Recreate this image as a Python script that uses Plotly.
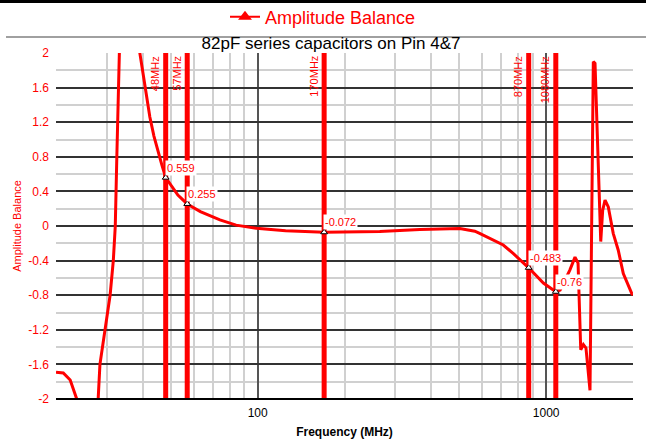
import math
import plotly.graph_objects as go

# ---- data ----
freq_mhz = [20, 21.2, 22.4, 23.6, 26.0, 28.0, 28.4, 29.6, 30.8, 31.6, 32.1, 32.5, 33.1, 33.5,
            37.4, 39.1, 40.06, 41.0, 42.3, 43.7, 45.1, 46.6, 48, 52.9, 57, 63.3, 74, 84.2, 99, 125,
            170, 220, 265, 365, 502, 566, 588, 710, 770, 870, 978, 1080, 1118, 1208, 1259,
            1290, 1310, 1318, 1346, 1374, 1419, 1457, 1477, 1504, 1546, 1570, 1600, 1642,
            1708, 1778, 1851, 1980, 2000]
amp_balance = [-1.69, -1.70, -1.78, -2.0, -2.5, -2.0, -1.6, -1.2, -0.8, -0.4, 0.0, 0.8, 2.0, 2.6,
               2.4, 2.0, 1.75, 1.52, 1.26, 1.04, 0.86, 0.70, 0.559, 0.358, 0.255, 0.166, 0.07, 0.01,
               -0.027, -0.054, -0.072, -0.068, -0.065, -0.04, -0.03, -0.06, -0.085, -0.22, -0.32,
               -0.483, -0.66, -0.76, -0.74, -0.51, -0.36, -0.43, -1.32, -1.43, -1.37, -1.41, -1.9,
               1.90, 1.88, 0.99, -0.18, 0.18, 0.30, 0.22, -0.085, -0.28, -0.55, -0.78, -0.80]

marker_freqs = [48, 57, 170, 870, 1080]
marker_labels = ["48MHz", "57MHz", "170MHz", "870MHz", "1080MHz"]
marker_values = [0.559, 0.255, -0.072, -0.483, -0.76]
marker_value_text = ["0.559", "0.255", "-0.072", "-0.483", "-0.76"]

y_ticks = [2, 1.6, 1.2, 0.8, 0.4, 0, -0.4, -0.8, -1.2, -1.6, -2]
y_ticktext = ["2", "1.6", "1.2", "0.8", "0.4", "0", "-0.4", "-0.8", "-1.2", "-1.6", "-2"]
x_ticks = [100, 1000]
x_ticktext = ["100", "1000"]
x_minor = [20, 30, 40, 50, 60, 70, 80, 90, 200, 300, 400, 500, 600, 700, 800, 900, 2000]

RED = "#ff0000"
FONT = "Arial, Liberation Sans, sans-serif"

fig = go.Figure()

# vertical marker lines
for f in marker_freqs:
    fig.add_trace(go.Scatter(x=[f, f], y=[-2, 2], mode="lines",
                             line=dict(color=RED, width=5), showlegend=False, hoverinfo="skip"))

# main curve
fig.add_trace(go.Scatter(x=freq_mhz, y=amp_balance, mode="lines",
                         line=dict(color=RED, width=3), showlegend=False))

# marker points
fig.add_trace(go.Scatter(x=marker_freqs, y=marker_values, mode="markers",
                         marker=dict(symbol="triangle-up", size=6, color="white",
                                     line=dict(color="black", width=1)),
                         showlegend=False))

# legend entry
fig.add_trace(go.Scatter(x=[None], y=[None], mode="lines+markers", name="Amplitude Balance",
                         line=dict(color=RED, width=2),
                         marker=dict(symbol="triangle-up", size=12, color=RED)))

annotations = []
for f, lab in zip(marker_freqs, marker_labels):
    annotations.append(dict(x=math.log10(f), y=2, xref="x", yref="y", text=lab,
                            textangle=-90, showarrow=False, xanchor="right", yanchor="top",
                            xshift=-3, yshift=-1, font=dict(family=FONT, size=11, color=RED)))
for f, v, t in zip(marker_freqs, marker_values, marker_value_text):
    annotations.append(dict(x=math.log10(f), y=v, xref="x", yref="y", text=t,
                            showarrow=False, xanchor="left", yanchor="bottom",
                            yshift=2, xshift=-1, bgcolor="white", borderpad=1,
                            font=dict(family=FONT, size=11, color=RED)))

PLOT_TOP, PLOT_H = 53, 346

fig.update_layout(
    width=646, height=440,
    margin=dict(l=56, r=13, t=PLOT_TOP, b=41, autoexpand=False),
    paper_bgcolor="white", plot_bgcolor="white",
    font=dict(family=FONT, color="black"),
    title=dict(text="82pF series capacitors on Pin 4&7", x=331 / 646, xref="container",
               y=1 - 43 / 440, yref="container", xanchor="center", yanchor="middle",
               font=dict(family=FONT, size=17, color="black")),
    showlegend=True,
    legend=dict(orientation="h", x=323 / 646, xref="container", xanchor="center",
                y=1 - 17 / 440, yref="container", yanchor="middle",
                font=dict(family=FONT, size=18, color=RED), bgcolor="rgba(0,0,0,0)"),
    xaxis=dict(type="log", range=[math.log10(20), math.log10(2000)], automargin=False,
               tickvals=x_ticks, ticktext=x_ticktext, ticks="", ticklabelstandoff=5,
               showgrid=True, gridcolor="#555555", gridwidth=1.5,
               minor=dict(tickvals=x_minor, showgrid=True, gridcolor="#d0d0d0", gridwidth=1.5, ticks=""),
               zeroline=False, showline=False,
               tickfont=dict(family=FONT, size=12, color="black"),
               title=dict(text="<b>Frequency (MHz)</b>", standoff=8,
                          font=dict(family=FONT, size=12, color="black"))),
    yaxis=dict(range=[-2, 2], tickvals=y_ticks, ticktext=y_ticktext, ticks="", automargin=False,
               showgrid=True, gridcolor="#333333", gridwidth=1.5,
               minor=dict(dtick=0.2, showgrid=True, gridcolor="#d0d0d0", gridwidth=1.5, ticks=""),
               zeroline=False, showline=False, ticklabelstandoff=6,
               tickfont=dict(family=FONT, size=12, color=RED),
               title=dict(text="Amplitude Balance", standoff=4,
                          font=dict(family=FONT, size=11, color=RED))),
    annotations=annotations,
    shapes=[
        dict(type="line", xref="paper", yref="paper", x0=-0.0867, x1=1.03,
             y0=1 + (PLOT_TOP - 37) / PLOT_H, y1=1 + (PLOT_TOP - 37) / PLOT_H,
             line=dict(color="#808080", width=1.5)),
        dict(type="line", xref="paper", yref="paper", x0=0, x1=1,
             y0=0, y1=0, line=dict(color="black", width=2)),
    ],
)

post = (
    "document.body.style.margin='0px';document.body.style.padding='0px';"
    "var bar=document.createElement('div');"
    "bar.style.cssText='position:fixed;top:0;left:0;width:100%;height:3px;background:#000;z-index:10;';"
    "document.body.appendChild(bar);"
)
fig.write_html("out.html", config={"displayModeBar": False}, post_script=post)
